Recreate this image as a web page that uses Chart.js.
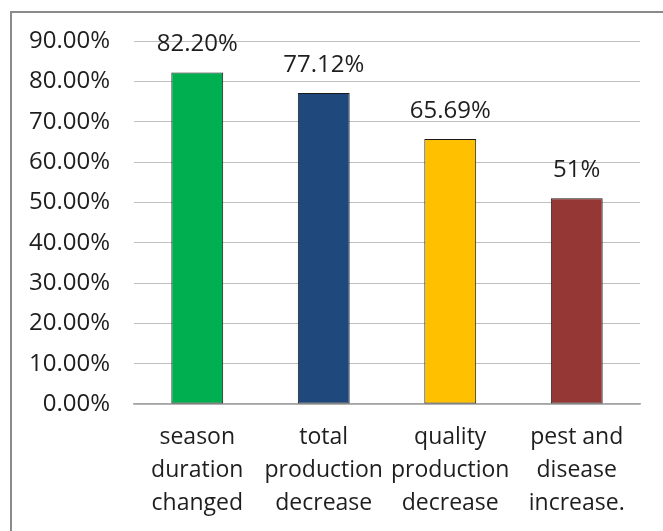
<!DOCTYPE html>
<html>
<head>
<meta charset="utf-8">
<script src="https://cdn.jsdelivr.net/npm/chart.js@4/dist/chart.umd.min.js"></script>
<style>
  html, body { margin: 0; padding: 0; background: #fff; overflow: hidden; }
  #wrap { position: relative; width: 663px; height: 531px; }
  #frame {
    position: absolute; left: 10px; top: 11px; width: 700px; height: 600px;
    border: 2px solid #8a8a8a; box-sizing: border-box; pointer-events: none;
  }
  canvas { position: absolute; left: 0; top: 0; }
</style>
</head>
<body>
<div id="wrap">
  <canvas id="c" width="663" height="531"></canvas>
  <div id="frame"></div>
</div>
<script>
// Survey responses on climate impacts
const categories = [
  ['season', 'duration', 'changed'],
  ['total', 'production', 'decrease'],
  ['quality', 'production', 'decrease'],
  ['pest and', 'disease', 'increase.']
];
const values = [82.20, 77.12, 65.69, 51];
const valueLabels = ['82.20%', '77.12%', '65.69%', '51%'];
const barColors = ['#00B050', '#1F497D', '#FFC000', '#953735'];
const yTickMax = 90;
const yTickStep = 10;

const FONT = "'Open Sans', 'DejaVu Sans', sans-serif";
const TEXT = '#1e1e1e';

// Draws the percentage label above each bar
const barValueLabels = {
  id: 'barValueLabels',
  afterDatasetsDraw(chart) {
    const ctx = chart.ctx;
    const meta = chart.getDatasetMeta(0);
    ctx.save();
    ctx.font = `24px ${FONT}`;
    ctx.fillStyle = TEXT;
    ctx.textAlign = 'center';
    ctx.textBaseline = 'middle';
    meta.data.forEach((bar, i) => {
      ctx.fillText(valueLabels[i], bar.x, bar.y - 28);
    });
    ctx.restore();
  }
};

new Chart(document.getElementById('c'), {
  type: 'bar',
  data: {
    labels: categories,
    datasets: [{
      data: values,
      backgroundColor: barColors,
      borderColor: '#1a1a1a',
      borderWidth: 1,
      borderSkipped: false,
      categoryPercentage: 1,
      barPercentage: 0.41
    }]
  },
  options: {
    responsive: false,
    animation: false,
    devicePixelRatio: 1,
    layout: { padding: { left: 10, right: 23, top: 41, bottom: 0 } },
    plugins: {
      legend: { display: false },
      tooltip: { enabled: false },
      title: { display: false }
    },
    scales: {
      x: {
        grid: { display: false, drawTicks: false },
        border: { display: true, color: '#a6a6a6', width: 1.5 },
        ticks: {
          color: TEXT,
          font: { family: FONT, size: 23, lineHeight: 1.43 },
          padding: 17,
          maxRotation: 0,
          autoSkip: false
        },
        afterFit(s) { s.height = 127; }
      },
      y: {
        min: 0,
        max: yTickMax,
        grid: { color: '#bfbfbf', lineWidth: 1, drawTicks: false },
        border: { display: false },
        ticks: {
          stepSize: yTickStep,
          color: TEXT,
          font: { family: FONT, size: 24 },
          padding: 24,
          callback: v => v.toFixed(2) + '%'
        },
        afterFit(s) { s.width = 124; }
      }
    }
  },
  plugins: [barValueLabels]
});
</script>
</body>
</html>
